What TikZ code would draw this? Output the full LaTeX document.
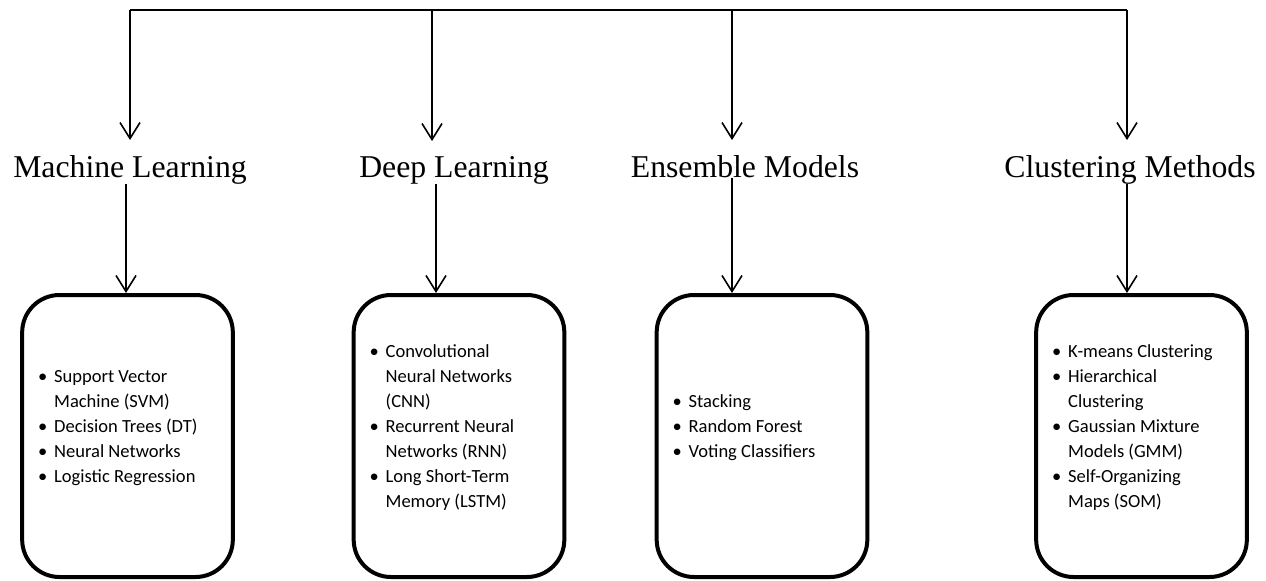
\documentclass[tikz,border=0pt]{standalone}
\usepackage{fontspec}
\setmainfont{Liberation Serif}
\newfontfamily\boxfont{Carlito}
\usetikzlibrary{arrows.meta}

\newenvironment{bulletlist}{\begin{list}{\textbullet}{%
  \setlength{\leftmargin}{12pt}\setlength{\labelwidth}{12pt}%
  \setlength{\labelsep}{0pt}\setlength{\itemsep}{0pt}%
  \setlength{\topsep}{0pt}\setlength{\parsep}{0pt}\setlength{\partopsep}{0pt}%
  \renewcommand{\makelabel}[1]{##1\hfil}}\raggedright}{\end{list}}

\begin{document}
\begin{tikzpicture}[
  x=0.75pt, y=-0.75pt,
  category/.style={inner sep=0pt, anchor=base, font=\fontsize{23.8pt}{28pt}\selectfont},
  catbox/.style={draw, line width=3pt, rounded corners=28pt, minimum width=158pt,
    minimum height=211.5pt, inner sep=0pt, font=\boxfont\fontsize{13.9pt}{18.75pt}\selectfont},
  arr/.style={-{Straight Barb[length=12pt, width=15pt]}, line width=1.2pt}
]
\useasboundingbox (0,0) rectangle (1266,581);

% --- Top bar ---
\coordinate (t1) at (130,10);
\coordinate (t2) at (432,10);
\coordinate (t3) at (732,10);
\coordinate (t4) at (1127,10);

% --- Categories ---
\node[category] (ml) at (130,177) {Machine Learning};
\node[category] (dl) at (454,177) {Deep Learning};
\node[category] (em) at (745,177) {Ensemble Models};
\node[category] (cm) at (1130,177) {Clustering Methods};

% --- Boxes ---
\node[catbox] (mlbox) at (127.5,436) {\begin{minipage}{134pt}\begin{bulletlist}
  \item Support Vector\newline Machine (SVM)
  \item Decision Trees (DT)
  \item Neural Networks
  \item Logistic Regression
  \end{bulletlist}\vspace*{12pt}\end{minipage}};
\node[catbox] (dlbox) at (459,436) {\begin{minipage}{134pt}\begin{bulletlist}
  \item Convolutional\newline Neural Networks\newline (CNN)
  \item Recurrent Neural\newline Networks (RNN)
  \item Long Short-Term\newline Memory (LSTM)
  \end{bulletlist}\vspace*{12pt}\end{minipage}};
\node[catbox] (embox) at (762,436) {\begin{minipage}{134pt}\begin{bulletlist}
  \item Stacking
  \item Random Forest
  \item Voting Classifiers
  \end{bulletlist}\vspace*{12pt}\end{minipage}};
\node[catbox] (cmbox) at (1141.5,436) {\begin{minipage}{134pt}\begin{bulletlist}
  \item K-means Clustering
  \item Hierarchical\newline Clustering
  \item Gaussian Mixture\newline Models (GMM)
  \item Self-Organizing\newline Maps (SOM)
  \end{bulletlist}\vspace*{12pt}\end{minipage}};

% --- Lower arrow positions ---
\coordinate (d1) at (126,0);
\coordinate (d2) at (436,0);
\coordinate (d3) at (732,0);
\coordinate (d4) at (1127,0);

% --- Edges: top bar to categories ---
\draw[line width=1.2pt] (t1) -- (t4);
\draw[arr, shorten >=11pt] (t1) -- (t1 |- ml.north);
\draw[arr, shorten >=11pt] (t2) -- (t2 |- dl.north);
\draw[arr, shorten >=11pt] (t3) -- (t3 |- em.north);
\draw[arr, shorten >=11pt] (t4) -- (t4 |- cm.north);

% --- Edges: categories to boxes ---
\draw[arr] (ml.south -| d1) -- (mlbox.north -| d1);
\draw[arr] (dl.south -| d2) -- (dlbox.north -| d2);
\draw[arr] (em.south -| d3) -- (embox.north -| d3);
\draw[arr] (cm.south -| d4) -- (cmbox.north -| d4);

\end{tikzpicture}
\end{document}
